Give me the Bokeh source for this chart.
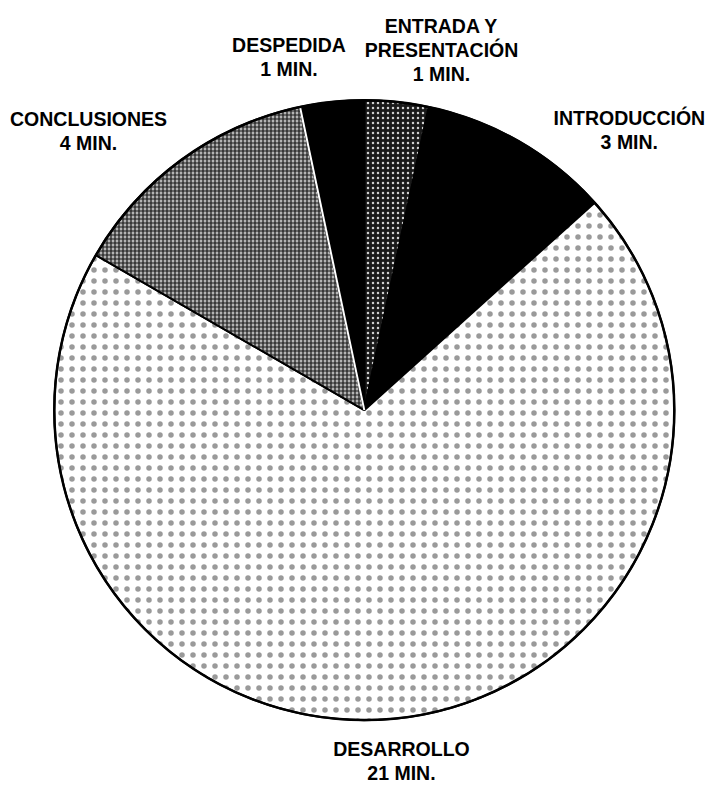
import math
from bokeh.plotting import figure
from bokeh.models import Range1d, ColumnDataSource
from bokeh.core.properties import value
from bokeh.embed import file_html
from bokeh.resources import INLINE

# Data (clockwise from 12 o'clock)
categories = ["ENTRADA Y\nPRESENTACIÓN", "INTRODUCCIÓN", "DESARROLLO", "CONCLUSIONES", "DESPEDIDA"]
minutes = [1, 3, 21, 4, 1]
value_labels = ["1 MIN.", "3 MIN.", "21 MIN.", "4 MIN.", "1 MIN."]

# Styles
fills = ["#1a1a1a", "#000000", "#ffffff", "#b4b4b4", "#000000"]
hatches = ["dot", " ", "dot", "cross", " "]
hatch_colors = ["#d0d0d0", "#000000", "#9a9a9a", "#1a1a1a", "#000000"]
hatch_scales = [5, 6, 11, 4, 6]
hatch_weights = [1.2, 1, 0.6, 1.2, 1]

# Reference canvas is 726x800; the figure is drawn at 710x784 and scaled.
REF_W, REF_H = 726, 800
W, H = 710, 784
cx, cy, R = 372, REF_H - 418, 317

p = figure(width=W, height=H, output_backend="svg", toolbar_location=None,
           x_range=Range1d(0, REF_W), y_range=Range1d(0, REF_H),
           min_border=0)
p.axis.visible = False
p.grid.visible = False
p.outline_line_color = None

total = sum(minutes)
starts, ends = [], []
cum = 0
for m in minutes:
    s = cum / total
    cum += m
    e = cum / total
    starts.append(math.pi / 2 - 2 * math.pi * e)
    ends.append(math.pi / 2 - 2 * math.pi * s)

src = ColumnDataSource(dict(start=starts, end=ends, fill=fills, hatch=hatches,
                            hcol=hatch_colors, hscale=hatch_scales, hw=hatch_weights))
p.wedge(x=cx, y=cy, radius=R, start_angle="start", end_angle="end", source=src,
        fill_color="fill", hatch_pattern="hatch", hatch_color="hcol",
        hatch_scale="hscale", hatch_weight="hw",
        line_color="black", line_width=2)

# white separator between CONCLUSIONES and DESPEDIDA
a = ends[4]
p.segment(x0=[cx], y0=[cy], x1=[cx + R * math.cos(a)], y1=[cy + R * math.sin(a)],
          line_color="white", line_width=2)

p.circle(x=cx, y=cy, radius=R, fill_color=None, line_color="black", line_width=2.5)

# Labels (positions in reference pixels, data y = 800 - y_img)
lab_x = [451, 643, 410, 90, 295]
lab_y_first = [26, 120, 764, 121, 45]
line_gap = 24.5
tx, ty, tt = [], [], []
for name, val, x0, y0 in zip(categories, value_labels, lab_x, lab_y_first):
    lines = name.split("\n") + [val]
    for i, ln in enumerate(lines):
        tx.append(x0)
        ty.append(REF_H - (y0 + i * line_gap))
        tt.append(ln)

p.text(x=tx, y=ty, text=tt, text_align="center", text_baseline="alphabetic",
       text_font=value("Liberation Sans"), text_font_style="bold",
       text_font_size="19.5px", text_color="black")

open("out.html", "w").write(file_html(p, INLINE))
